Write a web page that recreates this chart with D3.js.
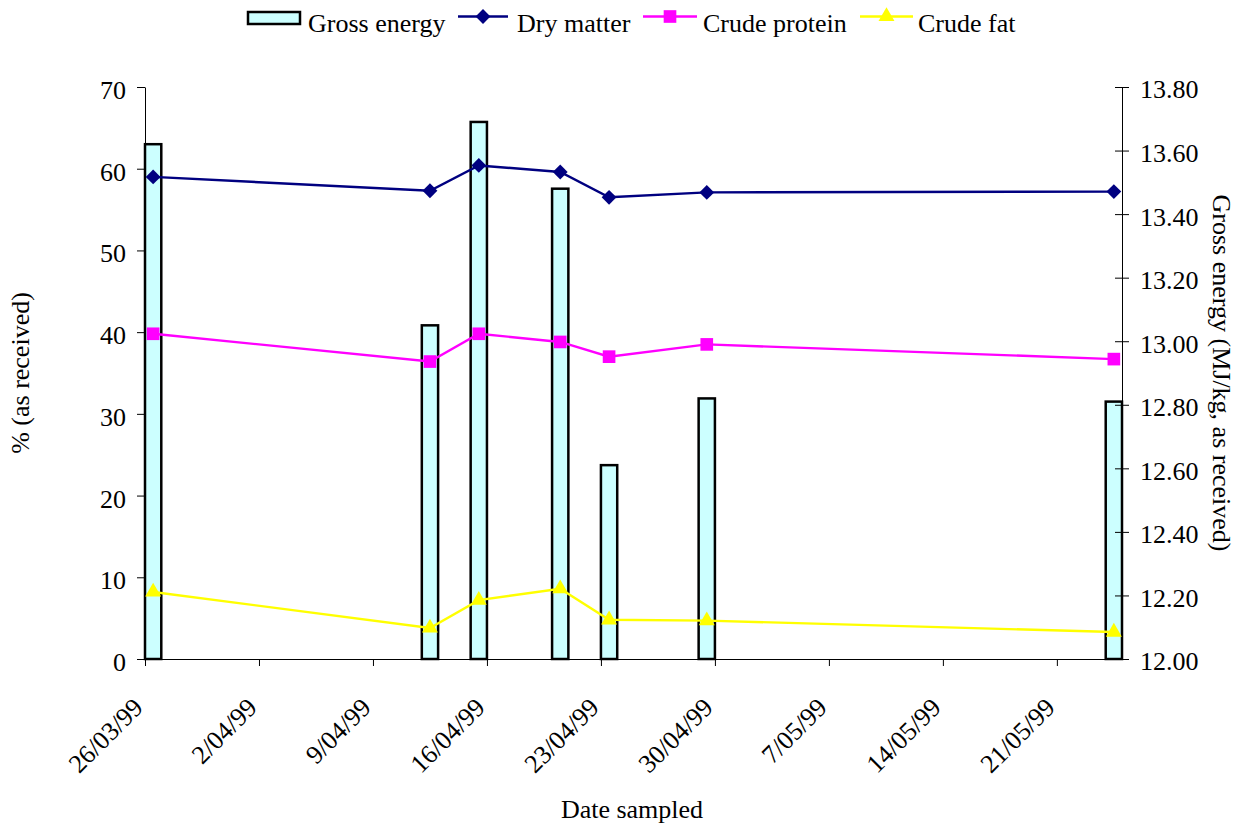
<!DOCTYPE html>
<html>
<head>
<meta charset="utf-8">
<script src="https://cdn.jsdelivr.net/npm/d3@7"></script>
<style>
  html, body { margin: 0; padding: 0; background: #fff; }
  svg { display: block; }
  svg text { font-family: "Liberation Serif", "Times New Roman", serif; font-size: 26px; fill: #000; }
</style>
</head>
<body>
<svg id="chart" width="1243" height="830"></svg>
<script>
// Sampling dates and laboratory results
const sampleDates = ["1999-03-26", "1999-04-12", "1999-04-15", "1999-04-20", "1999-04-23", "1999-04-29", "1999-05-24"];
const grossEnergy = [13.62, 13.05, 13.69, 13.48, 12.61, 12.82, 12.81];   // MJ/kg
const dryMatter   = [59.0, 57.3, 60.4, 59.6, 56.5, 57.1, 57.2];          // %
const crudeProtein = [39.8, 36.4, 39.8, 38.8, 37.0, 38.5, 36.7];         // %
const crudeFat    = [8.2, 3.8, 7.2, 8.6, 4.8, 4.7, 3.3];                 // %

const leftTicks  = [0, 10, 20, 30, 40, 50, 60, 70];
const rightTicks = [12.0, 12.2, 12.4, 12.6, 12.8, 13.0, 13.2, 13.4, 13.6, 13.8];
const axisStart = "1999-03-26";
const axisEnd   = "1999-05-25";

const parse = d3.utcParse("%Y-%m-%d");
const dates = sampleDates.map(parse);
const dayMs = 864e5;

const svg = d3.select("#chart");
const plotLeft = 145, plotRight = 1122, plotTop = 87, plotBottom = 659;

const x = d3.scaleUtc().domain([parse(axisStart), parse(axisEnd)]).range([plotLeft, plotRight]);
const yL = d3.scaleLinear().domain([0, 70]).range([plotBottom, plotTop]);
const yR = d3.scaleLinear().domain([12.0, 13.8]).range([plotBottom, plotTop]);

const mid = d => new Date(+d + dayMs / 2);

// Gross energy bars, one day wide
svg.append("g").selectAll("rect").data(dates).join("rect")
  .attr("x", d => x(d))
  .attr("width", d => x(new Date(+d + dayMs)) - x(d))
  .attr("y", (d, i) => yR(grossEnergy[i]))
  .attr("height", (d, i) => yR(12.0) - yR(grossEnergy[i]))
  .attr("fill", "#ccffff")
  .attr("stroke", "#000")
  .attr("stroke-width", 2.5);

// Axes
const axisStyle = g => {
  g.attr("font-family", null).attr("font-size", null);
  g.select(".domain").attr("stroke", "#000").attr("stroke-width", 1);
  g.selectAll(".tick line").attr("stroke", "#000");
  g.selectAll(".tick text").attr("fill", "#000");
};

svg.append("g").attr("transform", `translate(${plotLeft},0)`)
  .call(d3.axisLeft(yL).tickValues(leftTicks).tickSize(8).tickPadding(11).tickSizeOuter(0))
  .call(axisStyle)
  .call(g => g.selectAll(".tick text").attr("dy", "0.44em"));

const rAxis = svg.append("g").attr("transform", `translate(${plotRight},0)`)
  .call(d3.axisRight(yR).tickValues(rightTicks).tickFormat(d3.format(".2f")).tickSize(7).tickPadding(11).tickSizeOuter(0))
  .call(axisStyle)
  .call(g => g.selectAll(".tick text").attr("dy", "0.42em"));
// right-axis ticks cross the line
rAxis.selectAll(".tick line").attr("x1", -7);

const weekTicks = d3.utcFriday.range(parse(axisStart), parse(axisEnd));
const xAxis = svg.append("g").attr("transform", `translate(0,${plotBottom})`)
  .call(d3.axisBottom(x).tickValues(weekTicks).tickFormat(d3.utcFormat("%-d/%m/%y")).tickSize(7).tickSizeOuter(0))
  .call(axisStyle);
xAxis.selectAll(".tick text")
  .attr("text-anchor", "end")
  .attr("dy", null)
  .attr("transform", "translate(-1,50) rotate(-45)")
  .attr("y", 0).attr("x", 0);

// Lines with markers
const series = [
  { name: "Dry matter", values: dryMatter, color: "#000080", symbol: d3.symbolDiamond2, size: 140 },
  { name: "Crude protein", values: crudeProtein, color: "#ff00ff", symbol: d3.symbolSquare, size: 160 },
  { name: "Crude fat", values: crudeFat, color: "#ffff00", symbol: d3.symbolTriangle, size: 110 }
];

const line = d3.line().x(d => x(mid(d.date))).y(d => yL(d.value));
series.forEach(s => {
  const pts = dates.map((d, i) => ({ date: d, value: s.values[i] }));
  svg.append("path").datum(pts)
    .attr("d", line).attr("fill", "none")
    .attr("stroke", s.color).attr("stroke-width", 2.4);
  svg.append("g").selectAll("path").data(pts).join("path")
    .attr("d", d3.symbol(s.symbol, s.size))
    .attr("transform", d => `translate(${x(mid(d.date))},${yL(d.value)})`)
    .attr("fill", s.color);
});

// Axis titles
svg.append("text")
  .attr("transform", `translate(29,${(plotTop + plotBottom) / 2}) rotate(-90)`)
  .attr("text-anchor", "middle")
  .text("% (as received)");
svg.append("text")
  .attr("transform", `translate(1213,${(plotTop + plotBottom) / 2}) rotate(90)`)
  .attr("text-anchor", "middle")
  .text("Gross energy (MJ/kg, as received)");
svg.append("text")
  .attr("x", 632).attr("y", 818)
  .attr("text-anchor", "middle")
  .text("Date sampled");

// Legend
const legend = svg.append("g");
legend.append("rect").attr("x", 248).attr("y", 12).attr("width", 52).attr("height", 12)
  .attr("fill", "#ccffff").attr("stroke", "#000").attr("stroke-width", 2.5);
legend.append("text").attr("x", 308).attr("y", 32).text("Gross energy");
const legendLines = [
  { s: series[0], x0: 458, x1: 508, tx: 517 },
  { s: series[1], x0: 643, x1: 697, tx: 703 },
  { s: series[2], x0: 860, x1: 913, tx: 918 }
];
legendLines.forEach(l => {
  legend.append("line").attr("x1", l.x0).attr("x2", l.x1).attr("y1", 16.5).attr("y2", 16.5)
    .attr("stroke", l.s.color).attr("stroke-width", 2.4);
  legend.append("path").attr("d", d3.symbol(l.s.symbol, l.s.size))
    .attr("transform", `translate(${(l.x0 + l.x1) / 2},16.5)`)
    .attr("fill", l.s.color);
  legend.append("text").attr("x", l.tx).attr("y", 32).text(l.s.name);
});
</script>
</body>
</html>
